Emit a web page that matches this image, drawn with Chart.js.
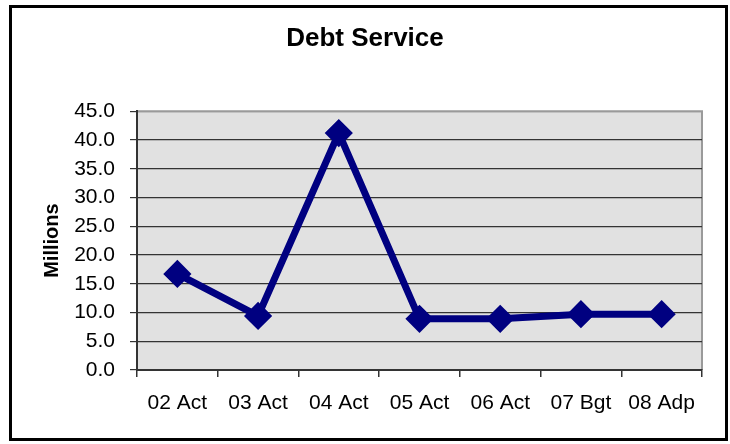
<!DOCTYPE html>
<html>
<head>
<meta charset="utf-8">
<script src="https://cdn.jsdelivr.net/npm/chart.js@4/dist/chart.umd.min.js"></script>
<style>
  html, body { margin: 0; padding: 0; background: #fff; }
  #wrap { width: 730px; height: 444px; }
</style>
</head>
<body>
<div id="wrap"><canvas id="chartDebt" width="730" height="444"></canvas></div>
<script>
const categories = ["02 Act", "03 Act", "04 Act", "05 Act", "06 Act", "07 Bgt", "08 Adp"];
const debtService = [16.7, 9.4, 41.2, 8.9, 8.9, 9.7, 9.7];
const yTicks = [0, 5, 10, 15, 20, 25, 30, 35, 40, 45];

const frame = {
  id: "frame",
  beforeDraw: (chart) => {
    const ctx = chart.ctx;
    const a = chart.chartArea;
    ctx.save();
    ctx.fillStyle = "#fff";
    ctx.fillRect(0, 0, chart.width, chart.height);
    // outer border
    ctx.strokeStyle = "#000";
    ctx.lineWidth = 3;
    ctx.strokeRect(10.5, 6.5, 716, 433);
    // plot background
    ctx.fillStyle = "#e1e1e1";
    ctx.fillRect(a.left, a.top, a.right - a.left, a.bottom - a.top);
    ctx.strokeStyle = "#9a9a9a";
    ctx.lineWidth = 2;
    ctx.beginPath();
    ctx.moveTo(a.left, a.top);
    ctx.lineTo(a.right, a.top);
    ctx.lineTo(a.right, a.bottom);
    ctx.stroke();
    ctx.restore();
  },
};

const data = {
  labels: categories,
  datasets: [
    {
      label: "Debt Service",
      data: debtService,
      borderColor: "#000080",
      backgroundColor: "#000080",
      borderWidth: 7,
      pointStyle: "rectRot",
      pointRadius: 12,
      pointBorderWidth: 3,
      pointBackgroundColor: "#000080",
      pointBorderColor: "#000080",
      tension: 0,
    },
  ],
};

const config = {
  type: "line",
  data,
  plugins: [frame],
  options: {
    responsive: false,
    animation: false,
    layout: { padding: { left: 28, right: 28, top: 0, bottom: 0 } },
    plugins: {
      legend: { display: false },
      tooltip: { enabled: false },
      title: {
        display: true,
        text: "Debt Service",
        color: "#000",
        font: { family: "Liberation Sans, Arial, sans-serif", size: 26, weight: "bold", lineHeight: 1.2 },
        padding: { top: 23, bottom: 57 },
      },
    },
    scales: {
      x: {
        offset: true,
        grid: {
          offset: true,
          drawOnChartArea: false,
          drawTicks: true,
          tickLength: 7,
          color: "#333",
          lineWidth: 1.5,
        },
        border: { color: "#333", width: 2 },
        ticks: {
          color: "#000",
          font: { family: "Liberation Sans, Arial, sans-serif", size: 21 },
          padding: 14,
          maxRotation: 0,
        },
        afterFit: (scale) => { scale.height = 74; },
      },
      y: {
        min: 0,
        max: 45,
        afterBuildTicks: (scale) => { scale.ticks = yTicks.map((v) => ({ value: v })); },
        grid: {
          color: (c) => (c.tick && c.tick.value === 45 ? "#9a9a9a" : "#333"),
          lineWidth: 1.2,
          tickLength: 7,
          tickColor: "#333",
        },
        border: { color: "#333", width: 2 },
        ticks: {
          color: "#000",
          font: { family: "Liberation Sans, Arial, sans-serif", size: 21 },
          padding: 15,
          callback: (v) => Number(v).toFixed(1),
        },
        title: {
          display: true,
          text: "Millions",
          color: "#000",
          font: { family: "Liberation Sans, Arial, sans-serif", size: 20, weight: "bold", lineHeight: 1.2 },
          padding: { top: 12, bottom: 0 },
        },
        afterFit: (scale) => { scale.width = 109; },
      },
    },
  },
};

const chartDebt = new Chart(document.getElementById("chartDebt"), config);
</script>
</body>
</html>
